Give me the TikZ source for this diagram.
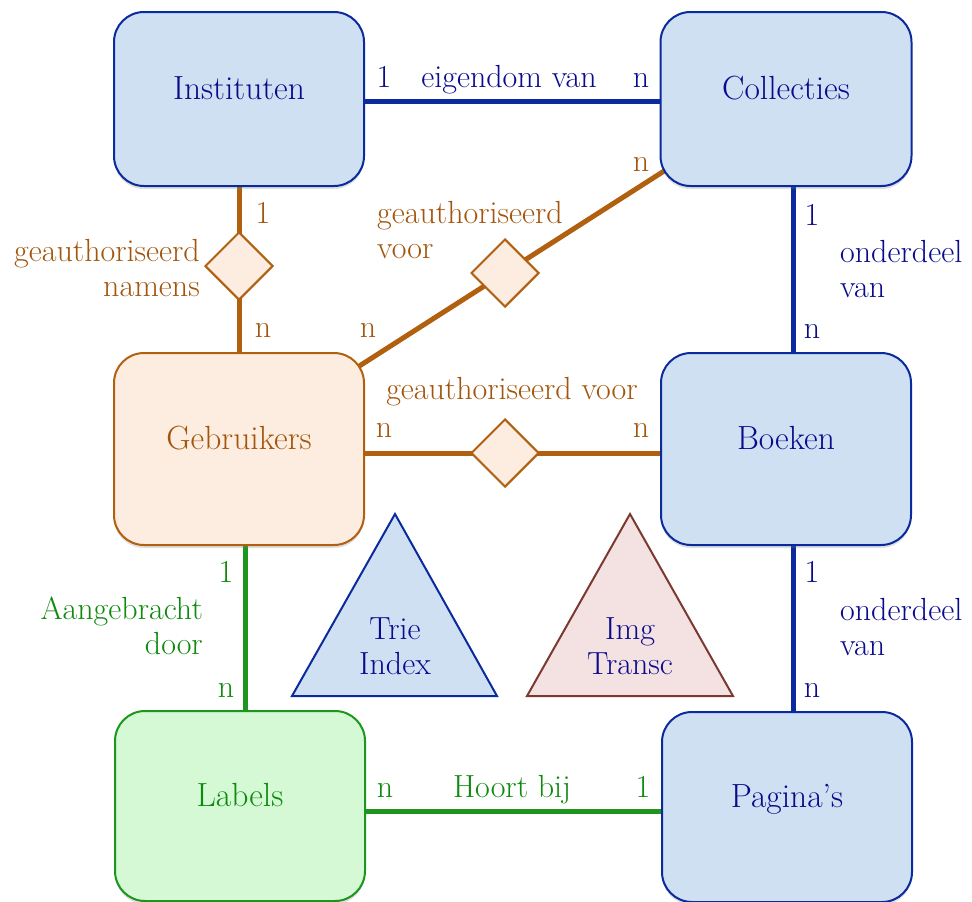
\documentclass[tikz,border=0pt]{standalone}
\usetikzlibrary{shapes.geometric,shadows,backgrounds}
\definecolor{entfill}{HTML}{CFE0F2}
\definecolor{entdraw}{HTML}{0B2A9E}
\definecolor{entink}{HTML}{0A0A8C}
\definecolor{usrfill}{HTML}{FDEDE1}
\definecolor{usrdraw}{HTML}{B0600E}
\definecolor{usrink}{HTML}{A2550C}
\definecolor{lblfill}{HTML}{D4F9D4}
\definecolor{lbldraw}{HTML}{1C961C}
\definecolor{lblink}{HTML}{0E8A0E}
\definecolor{imgfill}{HTML}{F3E2E1}
\definecolor{imgdraw}{HTML}{7A3A30}
\tikzset{
  ent/.style={draw=entdraw, fill=entfill, line width=2pt, rounded corners=30pt,
              minimum width=250pt, minimum height=174pt, text=entink,
              font=\fontsize{33.5}{37}\selectfont, text height=23pt, text depth=23pt,
              drop shadow={shadow xshift=0pt, shadow yshift=-3pt, opacity=.25}},
  usr/.style={ent, draw=usrdraw, fill=usrfill, text=usrink},
  lbl/.style={ent, draw=lbldraw, fill=lblfill, text=lblink},
  rel/.style={diamond, draw=usrdraw, fill=usrfill, line width=2pt,
              minimum width=68pt, minimum height=68pt, inner sep=0pt,
              drop shadow={shadow xshift=0pt, shadow yshift=-2pt, opacity=.25}},
  card/.style={font=\fontsize{32}{35}\selectfont, inner sep=0pt, anchor=base},
  tri/.style={line width=2pt, line join=miter},
  blueln/.style={draw=entdraw, line width=5pt},
  usrln/.style={draw=usrdraw, line width=5pt},
  lblln/.style={draw=lbldraw, line width=5pt},
}

\begin{document}
\begin{tikzpicture}[x=1pt, y=-1pt]
  \useasboundingbox (0,0) rectangle (972,902);

  % entiteiten
  \node[ent] (inst) at (239,99) {Instituten};
  \node[ent, minimum width=251pt] (coll) at (786,99) {Collecties};
  \node[usr, minimum height=192pt] (gebr) at (239,449) {Gebruikers};
  \node[ent, minimum height=192pt] (boek) at (786,449) {Boeken};
  \node[lbl, minimum height=190pt] (lab) at (240,806) {Labels};
  \node[ent, minimum height=190pt] (pag) at (787,807) {Pagina's};

  % relaties
  \node[rel] (dnam) at (239,266) {};
  \node[rel] (dcol) at (505,273) {};
  \node[rel] (dboek) at (505,453) {};

  % indexen
  \draw[tri, draw=entdraw, fill=entfill] (292,696) -- (395,514) -- (497,696) -- cycle;
  \draw[tri, draw=imgdraw, fill=imgfill] (527,696) -- (630,514) -- (733,696) -- cycle;
  \node[card, text=entink, align=center] (trie) at (395,674) {Trie\\Index};
  \node[card, text=entink, align=center] (img) at (630,674) {Img\\Transc};

  \begin{pgfonlayer}{background}
    \draw[blueln] ([yshift=-2pt]inst.east) -- ([yshift=-2pt]coll.west);
    \draw[usrln] (inst) -- (gebr);
    \draw[usrln] ([yshift=6pt]gebr.center) -- ([yshift=6pt]coll.center);
    \draw[usrln] ([yshift=-4pt]gebr.east) -- ([yshift=-4pt]boek.west);
    \draw[blueln] ([xshift=7pt]coll.south) -- ([xshift=7pt]boek.north);
    \draw[blueln] ([xshift=7pt]boek.south) -- ([xshift=6pt]pag.north);
    \draw[lblln] ([xshift=6pt]gebr.south) -- ([xshift=5pt]lab.north);
    \draw[lblln] ([yshift=-5pt]lab.east) -- ([yshift=-4pt]pag.west);
  \end{pgfonlayer}

  % kardinaliteiten en namen
  \node[card, text=entink] (ic1) at (384,87) {1};
  \node[card, text=entink] (icr) at (509,87) {eigendom van};
  \node[card, text=entink] (icn) at (641,87) {n};

  \node[card, text=usrink] (ig1) at (263,223) {1};
  \node[card, text=usrink, anchor=base east, align=right] (igr) at (200,296) {geauthoriseerd\\namens};
  \node[card, text=usrink] (ign) at (263,337) {n};

  \node[card, text=usrink] (gcn) at (368,337) {n};
  \node[card, text=usrink, anchor=base west, align=left] (gcr) at (377,258) {geauthoriseerd\\voor};
  \node[card, text=usrink] (gcm) at (641,171) {n};

  \node[card, text=usrink] (gbr) at (512,399) {geauthoriseerd voor};
  \node[card, text=usrink] (gbn) at (384,437) {n};
  \node[card, text=usrink] (gbm) at (641,437) {n};

  \node[card, text=entink] (cb1) at (812,225) {1};
  \node[card, text=entink, anchor=base west, align=left] (cbr) at (840,297) {onderdeel\\van};
  \node[card, text=entink] (cbn) at (812,338) {n};

  \node[card, text=entink] (bp1) at (812,582) {1};
  \node[card, text=entink, anchor=base west, align=left] (bpr) at (840,655) {onderdeel\\van};
  \node[card, text=entink] (bpn) at (812,697) {n};

  \node[card, text=lblink] (gl1) at (226,582) {1};
  \node[card, text=lblink, anchor=base east, align=right] (glr) at (203,654) {Aangebracht\\door};
  \node[card, text=lblink] (gln) at (226,697) {n};

  \node[card, text=lblink] (lpn) at (385,797) {n};
  \node[card, text=lblink] (lpr) at (512,797) {Hoort bij};
  \node[card, text=lblink] (lp1) at (643,797) {1};
\end{tikzpicture}
\end{document}
